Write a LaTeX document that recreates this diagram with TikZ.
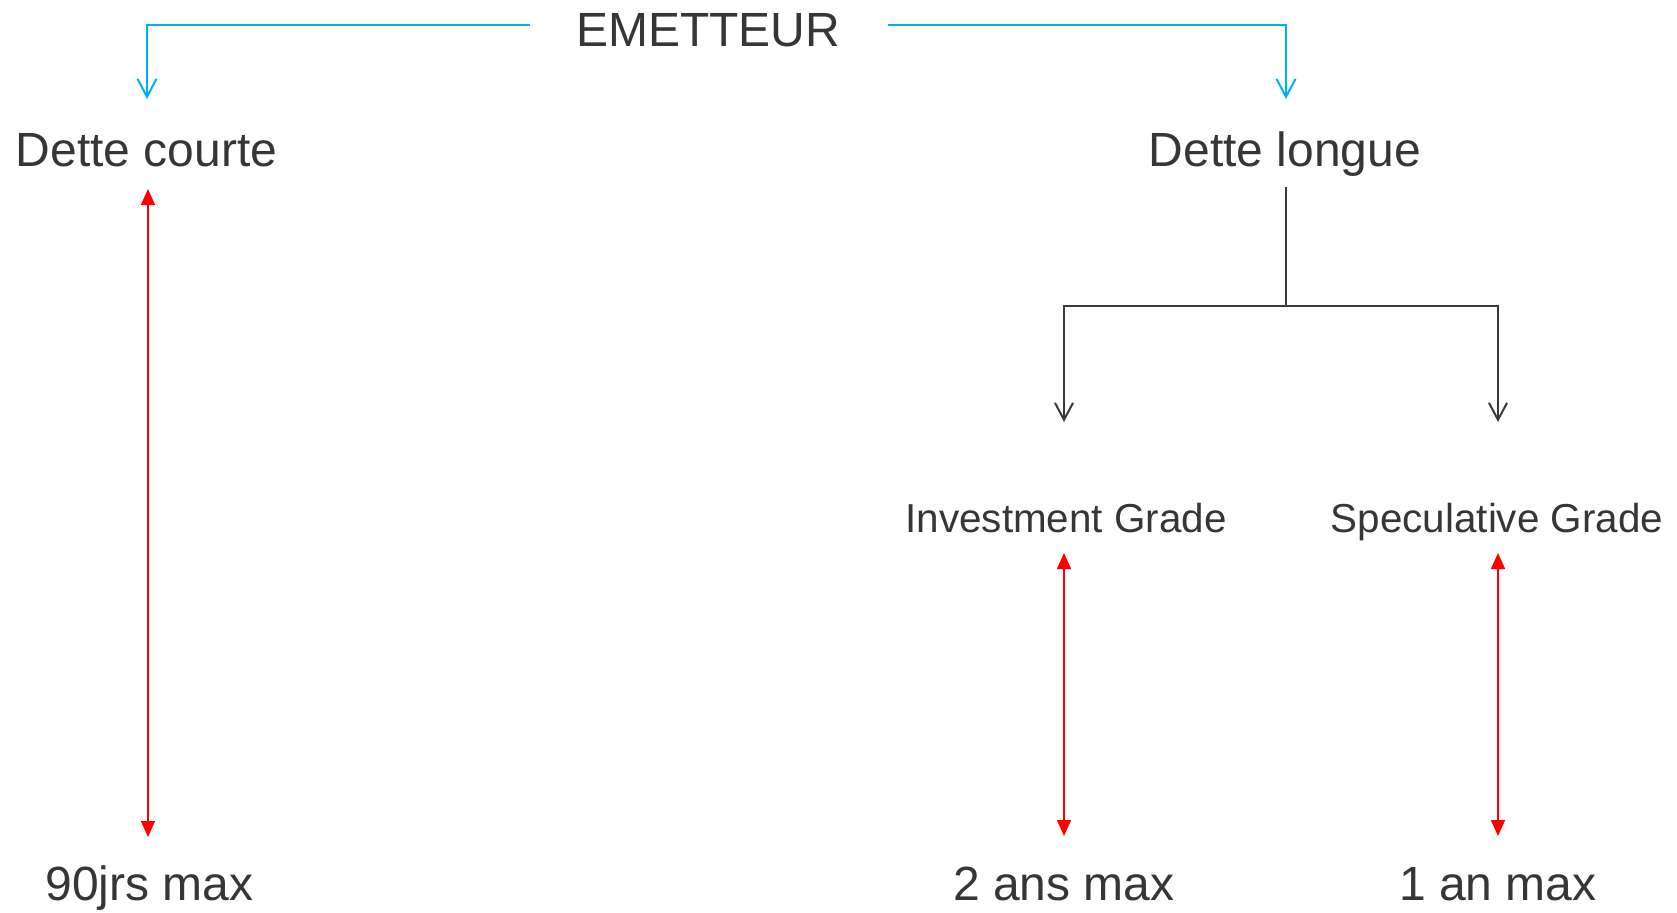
\documentclass[tikz,border=0pt]{standalone}
\usepackage{fontspec}
\setmainfont{Liberation Sans}
\usetikzlibrary{arrows.meta}
\definecolor{txt}{HTML}{363636}
\definecolor{cyanline}{HTML}{00B0F0}
\definecolor{darkline}{HTML}{3A3A3A}
\definecolor{redline}{HTML}{FF0000}
\tikzset{
  bigtext/.style={anchor=base, inner sep=0pt, text=txt, font=\fontsize{24pt}{28pt}\selectfont},
  midtext/.style={anchor=base, inner sep=0pt, text=txt, font=\fontsize{20.2pt}{24pt}\selectfont},
  blueconn/.style={draw=cyanline, line width=1pt, -{Straight Barb[length=9pt,width=9.5pt]}},
  darkconn/.style={draw=darkline, line width=1pt},
  darkarrow/.style={darkconn, -{Straight Barb[length=8.5pt,width=9pt]}},
  redconn/.style={draw=redline, line width=0.8pt, {Triangle[length=8pt,width=7pt]}-{Triangle[length=8pt,width=7pt]}}
}
\begin{document}
\begin{tikzpicture}[x=0.5pt,y=-0.5pt]
\useasboundingbox (0,0) rectangle (1677,912);

% text nodes
\node[bigtext] (em) at (708,46) {EMETTEUR};
\node[bigtext] (dc) at (146.5,166.5) {Dette courte};
\node[bigtext] (dl) at (1285,166.5) {Dette longue};
\node[midtext] (ig) at (1066,532) {Investment Grade};
\node[midtext] (sg) at (1497,532) {Speculative Grade};
\node[bigtext] (n90) at (149.5,900) {90jrs max};
\node[bigtext] (n2) at (1064,900) {2 ans max};
\node[bigtext] (n1) at (1498,900) {1 an max};

% connector end points
\coordinate (emL) at (530,25);
\coordinate (emR) at (888,25);
\coordinate (dcT) at (147,99);
\coordinate (dlT) at (1286,99);
\coordinate (dlB) at (1286,187);
\coordinate (fork) at (1286,306);
\coordinate (igT) at (1064,422);
\coordinate (sgT) at (1498,422);
\coordinate (dcB) at (148,189);
\coordinate (n90T) at (148,837);
\coordinate (igB) at (1064,553);
\coordinate (n2T) at (1064,836);
\coordinate (sgB) at (1498,553);
\coordinate (n1T) at (1498,836);

% blue connectors
\draw[blueconn] (emL) -| (dcT);
\draw[blueconn] (emR) -| (dlT);

% dark tree
\draw[darkconn] (dlB) -- (fork);
\draw[darkarrow] (fork) -| (igT);
\draw[darkarrow] (fork) -| (sgT);

% red double arrows
\draw[redconn] (dcB) -- (n90T);
\draw[redconn] (igB) -- (n2T);
\draw[redconn] (sgB) -- (n1T);
\end{tikzpicture}
\end{document}
